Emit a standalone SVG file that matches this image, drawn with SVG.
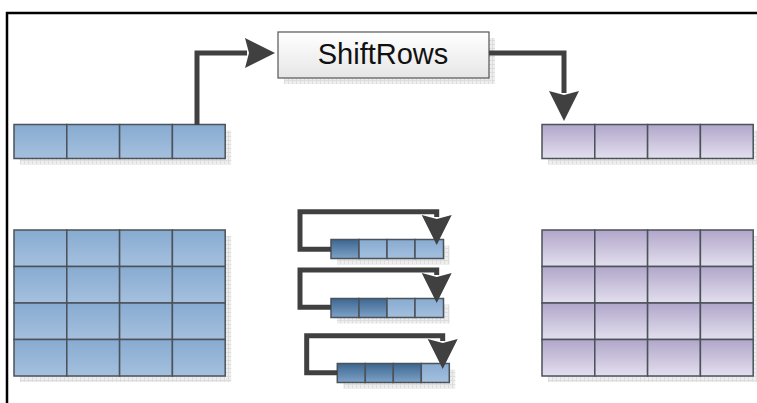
<svg xmlns="http://www.w3.org/2000/svg" width="757" height="403" viewBox="0 0 757 403">
  <style>
    .cell { stroke: #4b5259; stroke-width: 1.5; }
    .blue { fill: url(#gBlue); }
    .dark { fill: url(#gDark); }
    .purple { fill: url(#gPurple); }
    .shadow { fill: url(#pShadow); }
    .conn { fill: none; stroke: #404040; stroke-width: 5; stroke-linejoin: miter; marker-end: url(#head); }
    .label { font-family: "Liberation Sans", Arial, sans-serif; font-size: 29px; fill: #111; text-anchor: middle; }
    .frame { stroke: #000; stroke-width: 2.5; fill: none; }
  </style>
  <defs>
    <linearGradient id="gBlue" x1="0" y1="0" x2="0" y2="1">
      <stop offset="0" stop-color="#87abd1"/>
      <stop offset="1" stop-color="#a5c0de"/>
    </linearGradient>
    <linearGradient id="gDark" x1="0" y1="0" x2="0" y2="1">
      <stop offset="0" stop-color="#3c6690"/>
      <stop offset="1" stop-color="#7fa2c7"/>
    </linearGradient>
    <linearGradient id="gPurple" x1="0" y1="0" x2="0" y2="1">
      <stop offset="0" stop-color="#b1a6ca"/>
      <stop offset="1" stop-color="#e3dfee"/>
    </linearGradient>
    <linearGradient id="gBox" x1="0" y1="0" x2="0" y2="1">
      <stop offset="0" stop-color="#ffffff"/>
      <stop offset="1" stop-color="#e6e6e6"/>
    </linearGradient>
    <pattern id="pShadow" width="4" height="4" patternUnits="userSpaceOnUse">
      <rect width="4" height="4" fill="#eeeeee"/>
      <path d="M0,0.5 H4 M0.5,0 V4" stroke="#dddddd" stroke-width="1"/>
    </pattern>
    <marker id="head" markerUnits="userSpaceOnUse" viewBox="0 0 32 32" markerWidth="32" markerHeight="32" refX="2" refY="16" orient="auto">
      <path d="M0,1 L30,16 L0,31 L4,16 Z" fill="#404040"/>
    </marker>
  </defs>

  <rect width="757" height="403" fill="#ffffff"/>

  <!-- outer frame: top and left edges -->
  <path class="frame" d="M6,13 H757 M7,12 V403"/>

  <!-- state row before the operation -->
  <g id="inputRow">
    <rect class="shadow" x="20" y="130.5" width="211.2" height="34"/>
    <rect class="cell blue" x="14" y="124.5" width="52.8" height="34"/>
    <rect class="cell blue" x="66.8" y="124.5" width="52.8" height="34"/>
    <rect class="cell blue" x="119.6" y="124.5" width="52.8" height="34"/>
    <rect class="cell blue" x="172.4" y="124.5" width="52.8" height="34"/>
  </g>

  <!-- operation box -->
  <g id="shiftRows">
    <rect class="shadow" x="284" y="38" width="211" height="46"/>
    <rect x="278" y="32" width="211" height="46" fill="url(#gBox)" stroke="#555" stroke-width="1.2"/>
    <text class="label" x="383" y="64">ShiftRows</text>
  </g>

  <!-- state row after the operation -->
  <g id="outputRow">
    <rect class="shadow" x="548" y="130.5" width="211.2" height="34"/>
    <rect class="cell purple" x="542" y="124.5" width="52.8" height="34"/>
    <rect class="cell purple" x="594.8" y="124.5" width="52.8" height="34"/>
    <rect class="cell purple" x="647.6" y="124.5" width="52.8" height="34"/>
    <rect class="cell purple" x="700.4" y="124.5" width="52.8" height="34"/>
  </g>

  <!-- 4x4 input state -->
  <g id="inputState">
    <rect class="shadow" x="20" y="236" width="211.2" height="146"/>
    <g class="cell blue">
      <rect x="14" y="230" width="52.8" height="36.5"/>
      <rect x="66.8" y="230" width="52.8" height="36.5"/>
      <rect x="119.6" y="230" width="52.8" height="36.5"/>
      <rect x="172.4" y="230" width="52.8" height="36.5"/>
      <rect x="14" y="266.5" width="52.8" height="36.5"/>
      <rect x="66.8" y="266.5" width="52.8" height="36.5"/>
      <rect x="119.6" y="266.5" width="52.8" height="36.5"/>
      <rect x="172.4" y="266.5" width="52.8" height="36.5"/>
      <rect x="14" y="303" width="52.8" height="36.5"/>
      <rect x="66.8" y="303" width="52.8" height="36.5"/>
      <rect x="119.6" y="303" width="52.8" height="36.5"/>
      <rect x="172.4" y="303" width="52.8" height="36.5"/>
      <rect x="14" y="339.5" width="52.8" height="36.5"/>
      <rect x="66.8" y="339.5" width="52.8" height="36.5"/>
      <rect x="119.6" y="339.5" width="52.8" height="36.5"/>
      <rect x="172.4" y="339.5" width="52.8" height="36.5"/>
    </g>
  </g>

  <!-- 4x4 output state -->
  <g id="outputState">
    <rect class="shadow" x="548" y="236" width="211.2" height="146"/>
    <g class="cell purple">
      <rect x="542" y="230" width="52.8" height="36.5"/>
      <rect x="594.8" y="230" width="52.8" height="36.5"/>
      <rect x="647.6" y="230" width="52.8" height="36.5"/>
      <rect x="700.4" y="230" width="52.8" height="36.5"/>
      <rect x="542" y="266.5" width="52.8" height="36.5"/>
      <rect x="594.8" y="266.5" width="52.8" height="36.5"/>
      <rect x="647.6" y="266.5" width="52.8" height="36.5"/>
      <rect x="700.4" y="266.5" width="52.8" height="36.5"/>
      <rect x="542" y="303" width="52.8" height="36.5"/>
      <rect x="594.8" y="303" width="52.8" height="36.5"/>
      <rect x="647.6" y="303" width="52.8" height="36.5"/>
      <rect x="700.4" y="303" width="52.8" height="36.5"/>
      <rect x="542" y="339.5" width="52.8" height="36.5"/>
      <rect x="594.8" y="339.5" width="52.8" height="36.5"/>
      <rect x="647.6" y="339.5" width="52.8" height="36.5"/>
      <rect x="700.4" y="339.5" width="52.8" height="36.5"/>
    </g>
  </g>

  <!-- rotating rows: 1, 2 and 3 bytes shifted -->
  <g id="shift1">
    <rect class="shadow" x="337" y="245.5" width="112.5" height="19"/>
    <rect class="cell dark" x="331" y="239.5" width="28" height="19"/>
    <rect class="cell blue" x="359" y="239.5" width="28" height="19"/>
    <rect class="cell blue" x="387" y="239.5" width="28" height="19"/>
    <rect class="cell blue" x="415" y="239.5" width="28.5" height="19"/>
  </g>
  <g id="shift2">
    <rect class="shadow" x="337" y="304.5" width="112.5" height="19"/>
    <rect class="cell dark" x="331" y="298.5" width="28" height="19"/>
    <rect class="cell dark" x="359" y="298.5" width="28" height="19"/>
    <rect class="cell blue" x="387" y="298.5" width="28" height="19"/>
    <rect class="cell blue" x="415" y="298.5" width="28.5" height="19"/>
  </g>
  <g id="shift3">
    <rect class="shadow" x="343.3" y="369.5" width="112" height="19"/>
    <rect class="cell dark" x="337.3" y="363.5" width="28" height="19"/>
    <rect class="cell dark" x="365.3" y="363.5" width="28" height="19"/>
    <rect class="cell dark" x="393.3" y="363.5" width="28" height="19"/>
    <rect class="cell blue" x="421.3" y="363.5" width="28" height="19"/>
  </g>

  <!-- connectors -->
  <g id="connectors">
    <path class="conn" d="M197,125 V53 H247"/>
    <path class="conn" d="M489,53 H564 V93"/>
    <path class="conn" d="M331,249.3 H300 V211.7 H436.7 V217"/>
    <path class="conn" d="M331,307.3 H300 V270 H436.7 V275"/>
    <path class="conn" d="M337.3,372.7 H306.7 V335.7 H442.7 V341"/>
  </g>
</svg>
